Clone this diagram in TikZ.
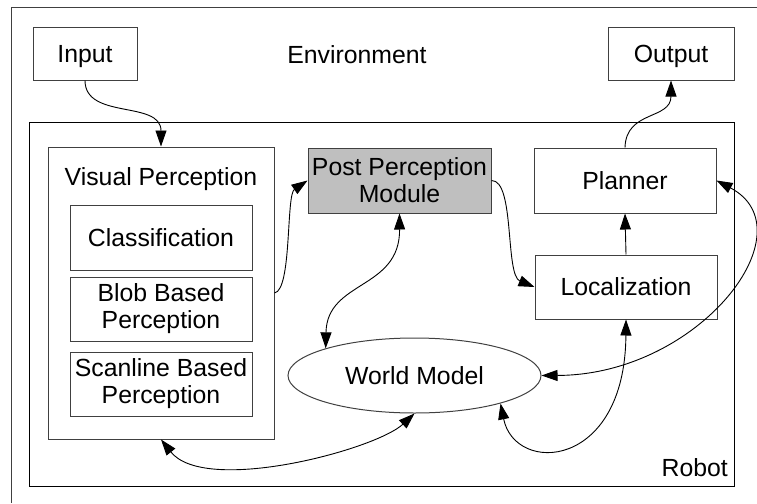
\documentclass[tikz,border=0pt]{standalone}
\usepackage{fontspec}
\setmainfont{Liberation Sans}
\usetikzlibrary{arrows.meta}
\usetikzlibrary{shapes.geometric}

\tikzset{
  every node/.style={font=\fontsize{24.8}{27}\selectfont, inner sep=0pt, align=center},
  boite/.style={draw=black!75, line width=1pt, minimum width=182pt, minimum height=65pt},
  fleche/.style={line width=0.9pt, -{Triangle[length=16pt,width=11pt]}},
  double/.style={line width=0.9pt, {Triangle[length=16pt,width=11pt]}-{Triangle[length=16pt,width=11pt]}}
}

\begin{document}
\begin{tikzpicture}[x=1pt,y=-1pt]
    \useasboundingbox (0,0) rectangle (757,503);
    % Environnement
    \draw[black!75, line width=1pt] (757,8) -- (11,8) -- (11,503);
    \node (env) at (357,55) {Environment};
    \node[boite, minimum width=104pt, minimum height=52pt, text depth=0pt] (input) at (85,54) {Input};
    \node[boite, minimum width=126pt, minimum height=52pt, text depth=0pt] (output) at (671,54) {Output};
    % Robot
    \node[boite, draw=black, minimum width=705pt, minimum height=364pt] (robot) at (381.5,304) {};
    \node[anchor=east] (robotlabel) at (728,468) {Robot};
    % Perception visuelle
    \node[boite, minimum width=226pt, minimum height=292pt] (visual) at (161,293) {};
    \node (visualtitle) at (161,179) {Visual Perception};
    \node[boite] (classif) at (161,237.5) {Classification};
    \node[boite, minimum height=64pt] (blob) at (161,309) {Blob Based\\Perception};
    \node[boite, minimum height=64pt] (scanline) at (161,384) {Scanline Based\\Perception};
    % Modules
    \node[boite, fill=black!25, minimum width=183pt] (post) at (399.5,180.5) {Post Perception\\Module};
    \node[boite] (planner) at (625,180.5) {Planner};
    \node[boite, minimum height=64pt] (local) at (626,287) {Localization};
    \node[ellipse, draw=black!75, line width=1pt, minimum width=253pt, minimum height=75pt] (world) at (414.5,375.5) {World Model};
    % Fleches
    \draw[fleche] (input.south) .. controls (85,120) and (161,100) .. (visual.north);
    \draw[fleche] (visual.east) .. controls (292,290) and (286,195) .. (post.west);
    \draw[fleche] (post.east) .. controls (515,180) and (505,275) .. (local.west);
    \draw[fleche] (local.north) -- (planner.south);
    \draw[fleche] (planner.north) .. controls (626,110) and (671,120) .. (output.south);
    % Fleches doubles
    \draw[double] (world.163) .. controls (327,280) and (400,290) .. (post.south);
    \draw[double] (world.east) .. controls (700,375) and (810,230) .. (planner.east);
    \draw[double] (world.-18) .. controls (515,475) and (625,470) .. (local.south);
    \draw[double] (world.south) .. controls (375,450) and (205,495) .. (visual.south);
\end{tikzpicture}
\end{document}
